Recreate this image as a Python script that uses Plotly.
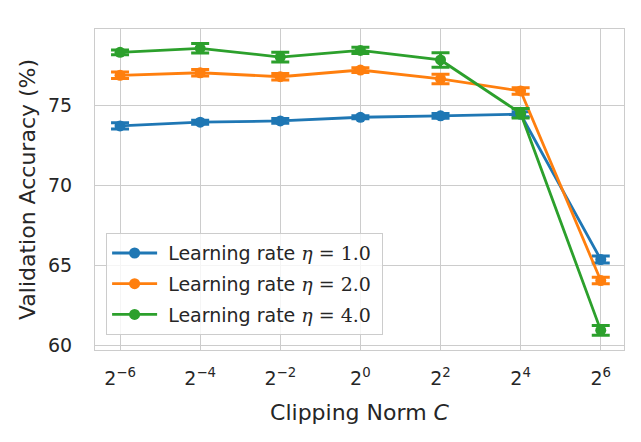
import plotly.graph_objects as go

exponents = [-6, -4, -2, 0, 2, 4, 6]
clip_norms = [2.0 ** k for k in exponents]
tick_labels = ["2<sup>\u22126</sup>", "2<sup>\u22124</sup>", "2<sup>\u22122</sup>", "2<sup>0</sup>",
               "2<sup>2</sup>", "2<sup>4</sup>", "2<sup>6</sup>"]

acc_lr1 = [73.73, 73.96, 74.04, 74.27, 74.36, 74.46, 65.36]
err_lr1 = [0.2, 0.12, 0.15, 0.1, 0.15, 0.15, 0.22]
acc_lr2 = [76.90, 77.06, 76.81, 77.23, 76.67, 75.92, 64.04]
err_lr2 = [0.2, 0.2, 0.2, 0.15, 0.3, 0.2, 0.2]
acc_lr4 = [78.34, 78.59, 78.04, 78.46, 77.86, 74.52, 60.92]
err_lr4 = [0.15, 0.3, 0.3, 0.2, 0.45, 0.3, 0.3]

series = [
    ("1.0", acc_lr1, err_lr1, "#1f77b4"),
    ("2.0", acc_lr2, err_lr2, "#ff7f0e"),
    ("4.0", acc_lr4, err_lr4, "#2ca02c"),
]

fig = go.Figure()
for i, (lr, vals, errs, color) in enumerate(series):
    fig.add_trace(go.Scatter(
        x=clip_norms, y=vals,
        mode="lines+markers",
        line=dict(color=color, width=2.8),
        marker=dict(color=color, size=11, symbol="circle"),
        error_y=dict(type="data", array=errs, visible=True, color=color, thickness=3, width=9),
        legendgroup="g%d" % i,
        name="\u00a0Learning rate <span style='font-family:DejaVu Serif'><i>\u03b7</i> = " + lr + "</span>\u00a0",
    ))

fig.update_layout(
    width=641, height=442,
    margin=dict(l=95, r=17, t=29, b=92),
    paper_bgcolor="white", plot_bgcolor="white",
    font=dict(family="DejaVu Sans", size=19, color="#262626"),
    showlegend=True,
    legend=dict(
        x=0.021, y=0.364, xanchor="left", yanchor="top",
        bgcolor="rgba(255,255,255,0.8)", bordercolor="#cccccc", borderwidth=1,
        font=dict(size=19, color="#262626"),
        tracegroupgap=3, itemwidth=45,
    ),
    xaxis=dict(
        type="log",
        range=[-6.625 * 0.30103, 6.58 * 0.30103],
        tickvals=clip_norms, ticktext=tick_labels,
        showgrid=True, gridcolor="#cccccc", gridwidth=1,
        showline=True, linecolor="#cccccc", linewidth=1.2, mirror=True,
        ticks="", zeroline=False, automargin=False,
        tickfont=dict(size=19), ticklabelstandoff=11,
        title=dict(text="Clipping Norm <i>C</i>", font=dict(size=22), standoff=16),
    ),
    yaxis=dict(
        range=[59.69, 79.8],
        tickvals=[60, 65, 70, 75],
        showgrid=True, gridcolor="#cccccc", gridwidth=1,
        showline=True, linecolor="#cccccc", linewidth=1.2, mirror=True,
        ticks="", zeroline=False, automargin=False,
        tickfont=dict(size=19), ticklabelstandoff=18,
        title=dict(text="Validation Accuracy (%)", font=dict(size=22), standoff=6),
    ),
)

fig.write_html("out.html", config={"displayModeBar": False},
               post_script="document.body.style.margin='0';")
